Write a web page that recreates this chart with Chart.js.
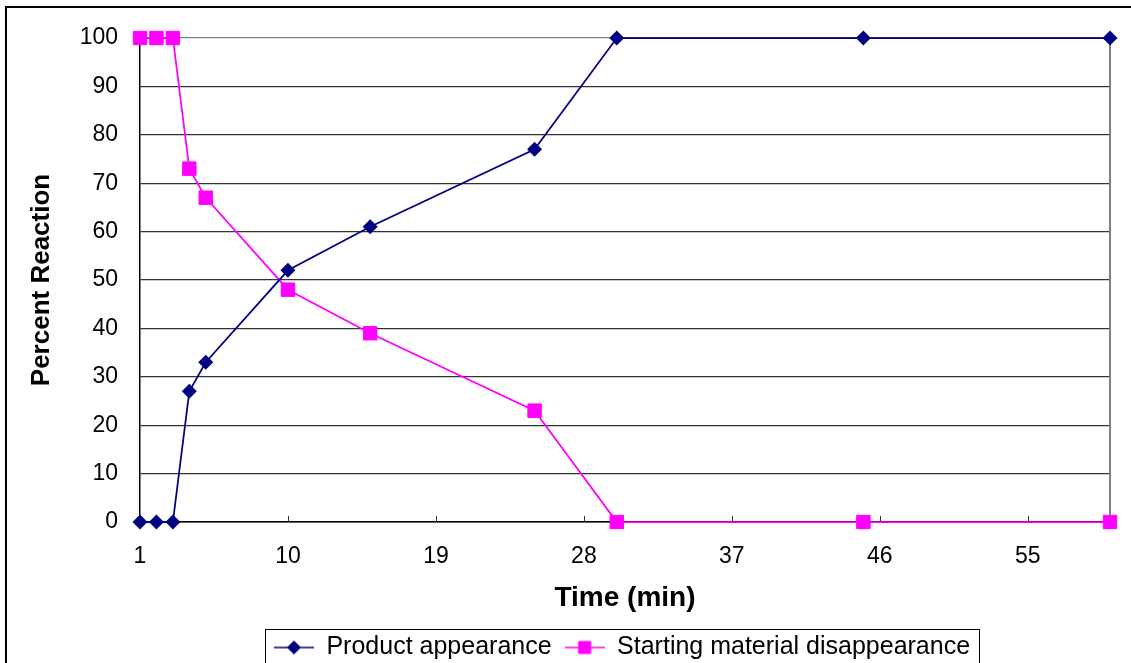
<!DOCTYPE html>
<html>
<head>
<meta charset="utf-8">
<title>Percent Reaction vs Time</title>
<script src="https://cdn.jsdelivr.net/npm/chart.js@4.4.1/dist/chart.umd.min.js"></script>
<style>
  html, body { margin: 0; padding: 0; background: #fff; }
  #wrap { position: relative; width: 1131px; height: 663px; }
</style>
</head>
<body>
<div id="wrap"><canvas id="canvas"></canvas></div>
<script>
// data
var times = [1, 2, 3, 4, 5, 10, 15, 25, 30, 45, 60];
var productAppearance = [0, 0, 0, 27, 33, 52, 61, 77, 100, 100, 100];
var startingDisappearance = [100, 100, 100, 73, 67, 48, 39, 23, 0, 0, 0];
var xTicks = [1, 10, 19, 28, 37, 46, 55];
var seriesNames = ['Product appearance', 'Starting material disappearance'];

var NAVY = '#000080';
var MAGENTA = '#FF00FF';
var FONT = "Arial, 'Liberation Sans', sans-serif";

function toPoints(xs, ys) {
    return xs.map(function (x, i) { return { x: x, y: ys[i] }; });
}

// little line + marker icons for the legend, like the Excel legend
function legendIcon(color, shape) {
    var c = document.createElement('canvas');
    c.width = 40;
    c.height = 16;
    var g = c.getContext('2d');
    g.strokeStyle = color;
    g.lineWidth = 1.5;
    g.beginPath();
    g.moveTo(0, 8);
    g.lineTo(40, 8);
    g.stroke();
    g.fillStyle = color;
    if (shape === 'diamond') {
        g.beginPath();
        g.moveTo(20, 1);
        g.lineTo(27, 8);
        g.lineTo(20, 15);
        g.lineTo(13, 8);
        g.closePath();
        g.fill();
    } else {
        g.fillRect(13.5, 1.5, 13, 13);
    }
    return c;
}
var icons = [legendIcon(NAVY, 'diamond'), legendIcon(MAGENTA, 'square')];

var frame = {
    id: 'frame',
    afterLayout: function (chart) {
        // Excel centres the legend under the plot, not under the whole picture
        var lg = chart.legend;
        var shift = 57;
        lg.left += shift;
        lg.right += shift;
    },
    beforeDatasetsDraw: function (chart) {
        var ctx = chart.ctx;
        var a = chart.chartArea;
        var xs = chart.scales.x;
        ctx.save();
        // plot area border on the right
        ctx.strokeStyle = '#808080';
        ctx.lineWidth = 2;
        ctx.beginPath();
        ctx.moveTo(a.right, a.top);
        ctx.lineTo(a.right, a.bottom);
        ctx.stroke();
        // inner tick marks on the time axis
        ctx.strokeStyle = '#333';
        ctx.lineWidth = 1;
        ctx.beginPath();
        xs.ticks.forEach(function (t) {
            var px = Math.round(xs.getPixelForValue(t.value)) + 0.5;
            ctx.moveTo(px, a.bottom);
            ctx.lineTo(px, a.bottom - 6);
        });
        ctx.stroke();
        ctx.restore();
    },
    afterDraw: function (chart) {
        var ctx = chart.ctx;
        var lg = chart.legend;
        ctx.save();
        // box around the legend
        var mid = (lg.left + lg.right) / 2;
        var half = (lg.lineWidths[0] - lg.options.labels.padding) / 2 + 9;
        ctx.strokeStyle = '#000';
        ctx.lineWidth = 1;
        ctx.strokeRect(Math.round(mid - half) + 0.5, Math.round(lg.top + 7) + 0.5,
            Math.round(half * 2), chart.height);
        // outer chart border (picture is cropped at right/bottom)
        ctx.fillStyle = '#000';
        ctx.fillRect(5, 6, chart.width, 2);
        ctx.fillRect(5, 6, 2, chart.height);
        ctx.restore();
    }
};

var config = {
    type: 'line',
    data: {
        datasets: [{
            label: seriesNames[0],
            data: toPoints(times, productAppearance),
            borderColor: NAVY,
            backgroundColor: NAVY,
            borderWidth: 1.75,
            pointStyle: 'rectRot',
            pointRadius: 7.5,
            pointBorderWidth: 0,
            pointBackgroundColor: NAVY,
            tension: 0,
            clip: false
        }, {
            label: seriesNames[1],
            data: toPoints(times, startingDisappearance),
            borderColor: MAGENTA,
            backgroundColor: MAGENTA,
            borderWidth: 1.75,
            pointStyle: 'rect',
            pointRadius: 9.5,
            pointBorderWidth: 1,
            pointBorderColor: MAGENTA,
            pointBackgroundColor: MAGENTA,
            tension: 0,
            clip: false
        }]
    },
    options: {
        responsive: true,
        maintainAspectRatio: false,
        animation: false,
        layout: {
            padding: { left: 20, right: 21, top: 38, bottom: -7 }
        },
        plugins: {
            tooltip: { enabled: false },
            legend: {
                position: 'bottom',
                labels: {
                    usePointStyle: true,
                    pointStyleWidth: 40,
                    padding: 13,
                    color: '#000',
                    font: { family: FONT, size: 25 },
                    generateLabels: function (chart) {
                        var items = Chart.defaults.plugins.legend.labels.generateLabels(chart);
                        items.forEach(function (it) {
                            it.pointStyle = icons[it.datasetIndex];
                        });
                        return items;
                    }
                }
            }
        },
        scales: {
            x: {
                type: 'linear',
                min: 1,
                max: 60,
                afterBuildTicks: function (scale) {
                    scale.ticks = xTicks.map(function (v) { return { value: v }; });
                },
                afterFit: function (scale) {
                    scale.height = 100;
                },
                grid: { display: true, drawOnChartArea: false, drawTicks: false },
                border: { display: true, color: '#000', width: 1.5 },
                ticks: {
                    padding: 21,
                    color: '#000',
                    font: { family: FONT, size: 23 },
                    maxRotation: 0,
                    autoSkip: false
                },
                title: {
                    display: true,
                    text: 'Time (min)',
                    color: '#000',
                    font: { family: FONT, size: 28, weight: 'bold' },
                    padding: { top: 0, bottom: 7 }
                }
            },
            y: {
                min: 0,
                max: 100,
                afterFit: function (scale) {
                    scale.width = 120;
                },
                grid: {
                    drawTicks: false,
                    lineWidth: 1.25,
                    color: function (c) {
                        return c.tick && c.tick.value === 100 ? '#808080' : '#333';
                    }
                },
                border: { display: true, color: '#000', width: 1.5 },
                ticks: {
                    stepSize: 10,
                    padding: 22,
                    color: '#000',
                    font: { family: FONT, size: 23 }
                },
                title: {
                    display: true,
                    text: 'Percent Reaction',
                    color: '#000',
                    font: { family: FONT, size: 26, weight: 'bold' },
                    padding: { top: 6, bottom: 0 }
                }
            }
        }
    },
    plugins: [frame]
};

window.onload = function () {
    window.myChart = new Chart(document.getElementById('canvas'), config);
};
</script>
</body>
</html>
